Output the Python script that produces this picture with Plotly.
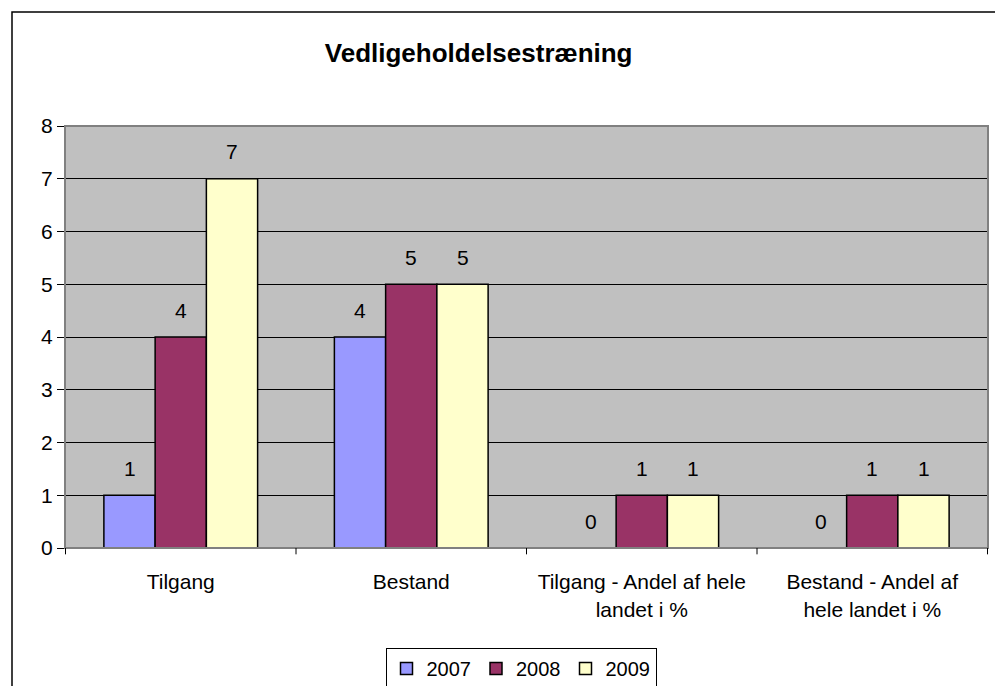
import plotly.graph_objects as go

categories = ["Tilgang", "Bestand", "Tilgang - Andel af hele<br>landet i %", "Bestand - Andel af<br>hele landet i %"]
years = ["2007", "2008", "2009"]
values_2007 = [1, 4, 0, 0]
values_2008 = [4, 5, 1, 1]
values_2009 = [7, 5, 1, 1]
colors = ["#9999FF", "#993366", "#FFFFCC"]
yticks = [0, 1, 2, 3, 4, 5, 6, 7, 8]

series = [values_2007, values_2008, values_2009]
FONT = "Arial, Liberation Sans, sans-serif"
FS = 21

fig = go.Figure()
for name, vals, col in zip(years, series, colors):
    fig.add_trace(go.Bar(
        name=name, x=categories, y=vals,
        marker=dict(color=col, line=dict(color="black", width=1.5)),
    ))

W, H = 995, 686
ml, mr, mt, mb = 65, 7, 126, 138
pw, ph = W - ml - mr, H - mt - mb

def px(x):
    return (x - ml) / pw

def py(y):
    return (H - mb - y) / ph

bargap = 0.333
ntr = len(series)
bw = (1 - bargap) / ntr
annotations = []
for k, vals in enumerate(series):
    off = -(1 - bargap) / 2 + bw * (k + 0.5)
    for i, v in enumerate(vals):
        annotations.append(dict(
            x=i + off, y=v, xref="x", yref="y", text=str(v), showarrow=False,
            yanchor="middle", yshift=27, font=dict(family=FONT, size=FS, color="black"),
        ))

fig.update_layout(
    width=W, height=H,
    margin=dict(l=ml, r=mr, t=mt, b=mb, pad=0, autoexpand=False),
    paper_bgcolor="white", plot_bgcolor="#C0C0C0",
    barmode="group", bargap=bargap, bargroupgap=0,
    font=dict(family=FONT, size=FS, color="black"),
    title=dict(text="<b>Vedligeholdelsestræning</b>", x=px(509), xanchor="center",
               y=(H - 53) / H, yanchor="middle", font=dict(size=26)),
    showlegend=True,
    legend=dict(orientation="h", x=px(521), xanchor="center", y=py(648), yanchor="top",
                bordercolor="black", borderwidth=1, bgcolor="white",
                font=dict(size=20), itemwidth=30, tracegroupgap=0, traceorder="normal"),
    xaxis=dict(showgrid=False, showline=True, linecolor="#808080", linewidth=1,
               ticks="", tickfont=dict(size=FS), fixedrange=True, ticklabelstandoff=15,
               automargin=False),
    yaxis=dict(range=[0, 8], tickvals=yticks, showgrid=True, gridcolor="black", gridwidth=1,
               showline=True, linecolor="#808080", linewidth=1, ticks="outside",
               ticklen=7, tickcolor="black", tickfont=dict(size=FS), zeroline=False,
               automargin=False),
    annotations=annotations,
    shapes=[
        dict(type="rect", xref="paper", yref="paper", x0=0, x1=1, y0=0, y1=1,
             line=dict(color="#808080", width=2), layer="above"),
        dict(type="rect", xref="paper", yref="paper", x0=px(12), x1=px(1010), y0=py(700), y1=py(12),
             line=dict(color="black", width=1.5), layer="below"),
    ] + [
        dict(type="line", xref="x", yref="paper", x0=i - 0.5, x1=i - 0.5, y0=0, y1=-0.015,
             line=dict(color="black", width=1)) for i in range(len(categories) + 1)
    ],
)
fig.write_html("out.html", config={"displayModeBar": False})

with open("out.html", "r", encoding="utf-8") as f:
    html = f.read()
html = html.replace("<head>", "<head><style>html,body{margin:0;padding:0;overflow:hidden;}</style>", 1)
with open("out.html", "w", encoding="utf-8") as f:
    f.write(html)
